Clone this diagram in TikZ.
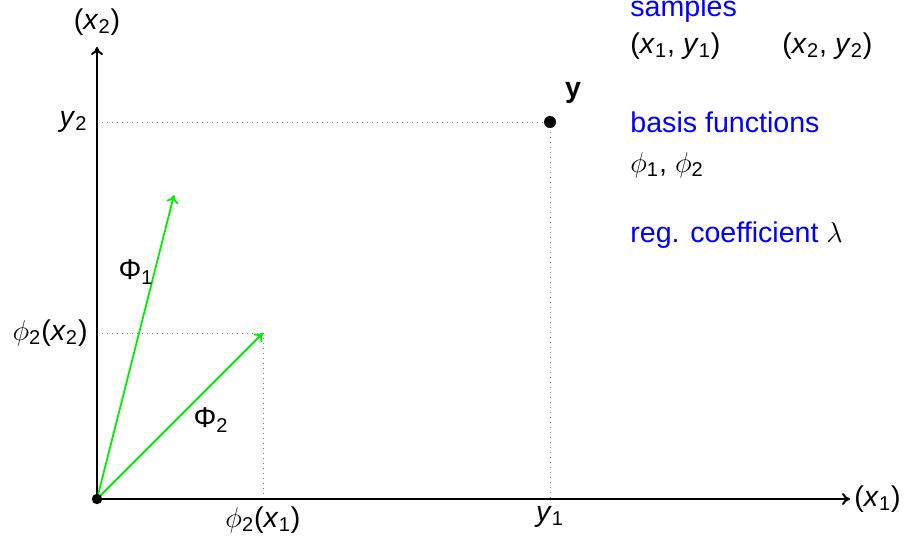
\documentclass[tikz,border=0pt]{standalone}
\usepackage{fix-cm}
\usepackage{fontspec}
\setmainfont{Liberation Sans}
\usetikzlibrary{arrows.meta}
\newcommand\ix[1]{\textit{x}\textsubscript{#1}}
\newcommand\iy[1]{\textit{y}\textsubscript{#1}}
\newcommand\ph[1]{$\phi$\textsubscript{#1}}
\definecolor{vecgreen}{RGB}{0,238,0}
\definecolor{ttlblue}{RGB}{0,0,255}
\begin{document}
\begin{tikzpicture}[x=0.5pt,y=-0.5pt,
  every node/.style={font=\fontsize{14.3}{17}\selectfont, inner sep=1pt},
  axis/.style={line width=1pt,-{To[length=4pt,width=6pt]}},
  vec/.style={line width=0.9pt,vecgreen,-{To[length=4pt,width=6pt]}},
  guide/.style={line width=0.5pt,gray,dotted},
  ttl/.style={text=ttlblue,anchor=base west},
  txt/.style={anchor=base west}]
\useasboundingbox (0,0) rectangle (904,537);
\coordinate (O) at (97,499);
\coordinate (Xend) at (850,499);
\coordinate (Yend) at (97,47);
\coordinate (P1) at (174,195);
\coordinate (P2) at (263,333);
\coordinate (Y) at (550,122);
\coordinate (Y2a) at (97,122);
\coordinate (Y1a) at (550,499);
\coordinate (P2x) at (263,499);
\coordinate (P2y) at (97,333);
% guides
\draw[guide] (Y2a) -- (Y);
\draw[guide] (Y) -- (Y1a);
\draw[guide] (P2y) -- (P2);
\draw[guide] (P2) -- (P2x);
% axes
\draw[axis] (O) -- (Xend);
\draw[axis] (O) -- (Yend);
% vectors
\draw[vec] (O) -- (P1);
\draw[vec] (O) -- (P2);
\fill (O) circle (2.6pt);
\fill (Y) circle (3pt);
% labels
\node (lx2) at (97,22) {(\ix{2})};
\node[anchor=west] (lx1) at (852,499) {(\ix{1})};
\node[anchor=east] (ly2) at (90,122) {\iy{2}};
\node[anchor=east] (lp2) at (90,333) {\ph{2}(\ix{2})};
\node (lp1) at (263,520) {\ph{2}(\ix{1})};
\node (ly1) at (550,517) {\iy{1}};
\node (ly) at (573,93) {\textbf{y}};
\node (lP1) at (136,272) {Φ\textsubscript{1}};
\node (lP2) at (211,420) {Φ\textsubscript{2}};
% legend
\node[ttl] (samp) at (628,16) {samples};
\node[txt] (s1) at (628,53) {(\ix{1}, \iy{1})};
\node[txt] (s2) at (780,53) {(\ix{2}, \iy{2})};
\node[ttl] (bf) at (628,132) {basis functions};
\node[txt] (phs) at (628,172) {\ph{1}, \ph{2}};
\node[ttl] (reg) at (628,242) {reg. coefficient \textcolor{black}{$\lambda$}};
\end{tikzpicture}
\end{document}
